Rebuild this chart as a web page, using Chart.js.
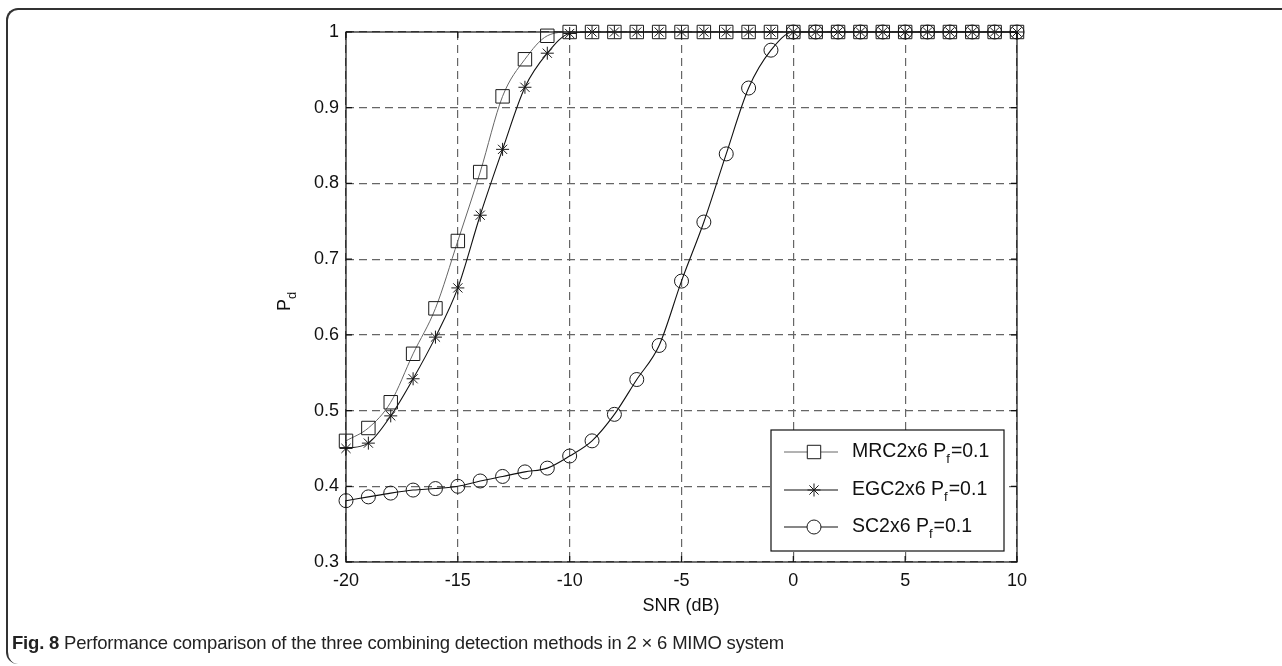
<!DOCTYPE html>
<html>
<head>
<meta charset="utf-8">
<script src="https://cdn.jsdelivr.net/npm/chart.js@4.4.0/dist/chart.umd.min.js"></script>
<style>
  html, body { margin: 0; padding: 0; background: #fff; }
  body { width: 1282px; height: 666px; position: relative; overflow: hidden; font-family: "Liberation Sans", Arial, sans-serif; }
  #frame { position: absolute; left: 6px; top: 8px; width: 1300px; height: 656px; border-left: 2px solid #333; border-top: 2px solid #333; border-top-left-radius: 12px; border-bottom-left-radius: 12px; box-sizing: border-box; }
  #wrap { position: absolute; left: 0; top: 0; width: 1282px; height: 666px; }
  #xtitle { position: absolute; left: 0; width: 1362px; top: 595px; text-align: center; font-size: 18px; color: #111; }
  #caption { position: absolute; left: 12px; top: 632px; font-size: 18.5px; color: #222; white-space: nowrap; letter-spacing: -0.2px; }
  #caption b { font-weight: bold; }
</style>
</head>
<body>
<div id="frame"></div>
<div id="wrap"><canvas id="myChart" width="1282" height="666"></canvas></div>
<div id="xtitle">SNR (dB)</div>
<div id="caption"><b>Fig. 8</b> Performance comparison of the three combining detection methods in 2 × 6 MIMO system</div>
<script>
const snr = [-20, -19, -18, -17, -16, -15, -14, -13, -12, -11, -10, -9, -8, -7, -6, -5, -4, -3, -2, -1, 0, 1, 2, 3, 4, 5, 6, 7, 8, 9, 10];
const mrc = [0.460, 0.477, 0.511, 0.575, 0.635, 0.724, 0.815, 0.915, 0.964, 0.995, 1, 1, 1, 1, 1, 1, 1, 1, 1, 1, 1, 1, 1, 1, 1, 1, 1, 1, 1, 1, 1];
const egc = [0.450, 0.457, 0.493, 0.542, 0.597, 0.662, 0.758, 0.845, 0.927, 0.972, 0.998, 1, 1, 1, 1, 1, 1, 1, 1, 1, 1, 1, 1, 1, 1, 1, 1, 1, 1, 1, 1];
const sc = [0.381, 0.386, 0.391, 0.395, 0.397, 0.400, 0.407, 0.413, 0.419, 0.424, 0.440, 0.460, 0.495, 0.541, 0.586, 0.671, 0.749, 0.839, 0.926, 0.976, 1, 1, 1, 1, 1, 1, 1, 1, 1, 1, 1];
const seriesNames = ['MRC2x6 P', 'EGC2x6 P', 'SC2x6 P'];
const xTicks = [-20, -15, -10, -5, 0, 5, 10];
const yTicks = [0.3, 0.4, 0.5, 0.6, 0.7, 0.8, 0.9, 1];

const font = '"Liberation Sans", Arial, sans-serif';
const toPoints = ys => snr.map((x, i) => ({x: x, y: ys[i]}));

function makeSet(label, ys, style, radius, lineColor, lineWidth) {
    return {
        label: label, data: toPoints(ys), pointStyle: style, pointRadius: radius,
        borderColor: lineColor, borderWidth: lineWidth, pointBorderColor: '#1a1a1a',
        pointBackgroundColor: 'rgba(0,0,0,0)', pointBorderWidth: 1, pointHoverRadius: radius,
        cubicInterpolationMode: 'monotone', clip: false, fill: false
    };
}

// axes box, inward ticks, y title and the in-plot legend
const matlabBits = {
    id: 'matlabBits',
    afterDatasetsDraw(chart) {
        const {ctx, chartArea: a, scales: {x, y}} = chart;
        ctx.save();
        ctx.strokeStyle = '#111';
        ctx.lineWidth = 1.2;
        ctx.strokeRect(a.left, a.top, a.right - a.left, a.bottom - a.top);
        ctx.beginPath();
        xTicks.forEach(v => {
            const px = x.getPixelForValue(v);
            ctx.moveTo(px, a.bottom); ctx.lineTo(px, a.bottom - 6);
            ctx.moveTo(px, a.top); ctx.lineTo(px, a.top + 6);
        });
        yTicks.forEach(v => {
            const py = y.getPixelForValue(v);
            ctx.moveTo(a.left, py); ctx.lineTo(a.left + 6, py);
            ctx.moveTo(a.right, py); ctx.lineTo(a.right - 6, py);
        });
        ctx.stroke();

        // y title P_d
        ctx.fillStyle = '#111';
        ctx.translate(290, 302);
        ctx.rotate(-Math.PI / 2);
        ctx.font = '18px ' + font;
        ctx.textBaseline = 'alphabetic';
        ctx.fillText('P', -9, 0);
        ctx.font = '13px ' + font;
        ctx.fillText('d', 3, 6);
        ctx.restore();

        // legend
        const bx = 771, by = 430, bw = 233, bh = 121;
        ctx.save();
        ctx.fillStyle = '#fff';
        ctx.fillRect(bx, by, bw, bh);
        ctx.strokeStyle = '#111';
        ctx.lineWidth = 1.2;
        ctx.strokeRect(bx, by, bw, bh);
        const rows = [452, 490, 527];
        chart.data.datasets.forEach((ds, i) => {
            const ry = rows[i];
            ctx.strokeStyle = ds.borderColor;
            ctx.lineWidth = ds.borderWidth;
            ctx.beginPath();
            ctx.moveTo(784, ry); ctx.lineTo(838, ry);
            ctx.stroke();
            ctx.strokeStyle = '#1a1a1a';
            ctx.fillStyle = '#fff';
            ctx.lineWidth = 1;
            Chart.helpers.drawPoint(ctx, {pointStyle: ds.pointStyle, radius: ds.pointRadius, borderWidth: 1}, 814, ry);
            ctx.fillStyle = '#111';
            ctx.textBaseline = 'middle';
            ctx.font = '19.5px ' + font;
            ctx.fillText(seriesNames[i], 852, ry);
            let w = ctx.measureText(seriesNames[i]).width;
            ctx.font = '13px ' + font;
            ctx.fillText('f', 852 + w, ry + 7);
            w += ctx.measureText('f').width + 1;
            ctx.font = '19.5px ' + font;
            ctx.fillText('=0.1', 852 + w, ry);
        });
        ctx.restore();
    }
};

const config = {
    type: 'line',
    data: {
        datasets: [
            makeSet('MRC', mrc, 'rect', 9.5, '#666', 1),
            makeSet('EGC', egc, 'star', 6.5, '#111', 1.1),
            makeSet('SC', sc, 'circle', 7, '#111', 1.1)
        ]
    },
    options: {
        responsive: false,
        animation: false,
        events: [],
        layout: {padding: {top: 32, left: 0, right: 265, bottom: 0}},
        plugins: {legend: {display: false}, tooltip: {enabled: false}},
        scales: {
            x: {
                type: 'linear', min: -20, max: 10,
                afterFit: s => { s.height = 104; },
                afterBuildTicks: s => { s.ticks = xTicks.map(v => ({value: v})); },
                ticks: {color: '#111', font: {family: font, size: 18}, padding: 8, maxRotation: 0},
                grid: {color: '#666', lineWidth: 1.2, drawTicks: false},
                border: {display: false, dash: [8, 5]}
            },
            y: {
                type: 'linear', min: 0.3, max: 1,
                afterFit: s => { s.width = 346; },
                afterBuildTicks: s => { s.ticks = yTicks.map(v => ({value: v})); },
                ticks: {color: '#111', font: {family: font, size: 18}, padding: 7, callback: v => String(+v.toFixed(1))},
                grid: {color: '#666', lineWidth: 1.2, drawTicks: false},
                border: {display: false, dash: [8, 5]}
            }
        }
    },
    plugins: [matlabBits]
};

const chart = new Chart(document.getElementById('myChart'), config);
</script>
</body>
</html>
